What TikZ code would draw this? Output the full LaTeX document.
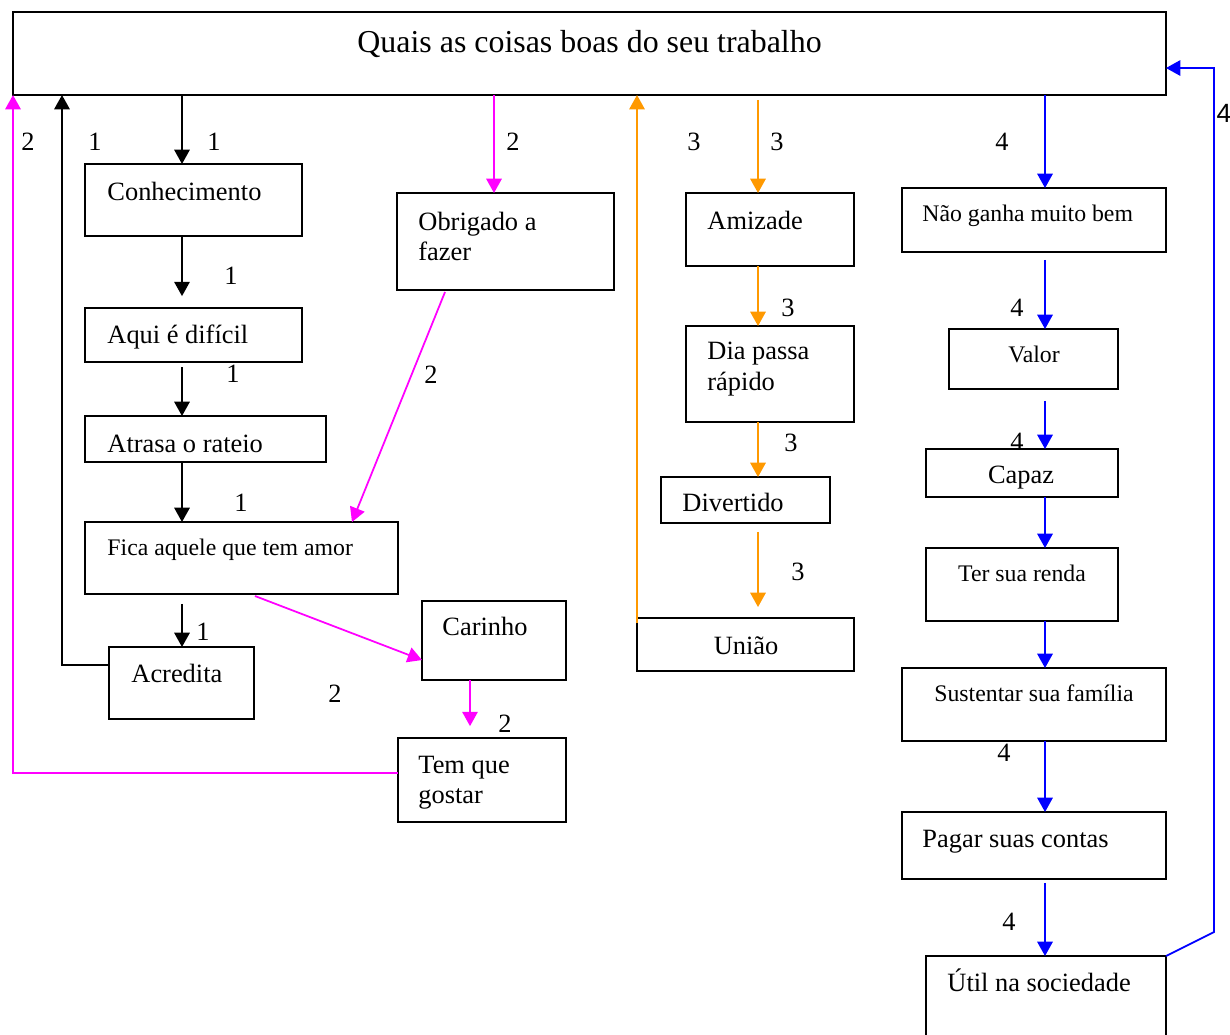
\documentclass[tikz,border=0pt]{standalone}
\usepackage{fontspec}
\setmainfont{Liberation Serif}
\newfontfamily\arialfam{Liberation Sans}
\usetikzlibrary{arrows.meta,fit,calc}

\definecolor{mag}{HTML}{FF00FF}
\definecolor{orng}{HTML}{FF9900}
\definecolor{blu}{HTML}{0000FF}

\tikzset{
  box/.style={draw, line width=0.8pt, rectangle, inner sep=0pt, outer sep=0pt},
  big/.style={inner sep=0pt, font=\fontsize{12}{14}\selectfont},
  sml/.style={inner sep=0pt, font=\fontsize{10.8}{13}\selectfont},
  ttlfont/.style={inner sep=0pt, font=\fontsize{14.5}{17}\selectfont},
  num/.style={inner sep=0pt, font=\fontsize{12}{14}\selectfont},
  arr/.style={line width=0.8pt, -{Triangle[width=7pt,length=6.5pt]}},
}

\begin{document}
\begin{tikzpicture}[x=0.4545pt, y=-0.4545pt]
\useasboundingbox (0,0) rectangle (1230,1034);
\clip (0,0) rectangle (1230,1034);

% ---------- boxes ----------
\node[box, fit={(13,12) (1166,95)}] (ttl) {};
\node[box, fit={(85,164) (302,236)}] (conh) {};
\node[box, fit={(85,308) (302,362)}] (aqui) {};
\node[box, fit={(85,416) (326,462)}] (atr) {};
\node[box, fit={(85,522) (398,594)}] (fica) {};
\node[box, fit={(109,647) (254,719)}] (acr) {};
\node[box, fit={(397,193) (614,290)}] (obr) {};
\node[box, fit={(422,601) (566,680)}] (car) {};
\node[box, fit={(398,738) (566,822)}] (tem) {};
\node[box, fit={(686,193) (854,266)}] (ami) {};
\node[box, fit={(686,326) (854,422)}] (dia) {};
\node[box, fit={(661,477) (830,523)}] (div) {};
\node[box, fit={(637,618) (854,671)}] (uni) {};
\node[box, fit={(902,188) (1166,252)}] (nao) {};
\node[box, fit={(949,329) (1118,389)}] (val) {};
\node[box, fit={(926,449) (1118,497)}] (cap) {};
\node[box, fit={(926,548) (1118,621)}] (ter) {};
\node[box, fit={(902,668) (1166,741)}] (sus) {};
\node[box, fit={(902,812) (1166,879)}] (pag) {};
\node[box, fit={(926,956) (1166,1050)}] (util) {};

% ---------- texts ----------
\node[ttlfont, anchor=base west] (t-ttl) at (357,52) {Quais as coisas boas do seu trabalho};
\node[big, anchor=base west] (t-conh) at (107,200) {Conhecimento};
\node[big, anchor=base west] (t-aqui) at (107,343) {Aqui é difícil};
\node[big, anchor=base west] (t-atr) at (107,452) {Atrasa o rateio};
\node[sml, anchor=base west] (t-fica) at (107,555) {Fica aquele que tem amor};
\node[big, anchor=base west] (t-acr) at (131,682) {Acredita};
\node[big, anchor=base west] (t-obr1) at (418,230) {Obrigado a};
\node[big, anchor=base west] (t-obr2) at (418,260) {fazer};
\node[big, anchor=base west] (t-car) at (442,635) {Carinho};
\node[big, anchor=base west] (t-tem1) at (418,773) {Tem que};
\node[big, anchor=base west] (t-tem2) at (418,803) {gostar};
\node[big, anchor=base west] (t-ami) at (707,229) {Amizade};
\node[big, anchor=base west] (t-dia1) at (707,359) {Dia passa};
\node[big, anchor=base west] (t-dia2) at (707,390) {rápido};
\node[big, anchor=base west] (t-div) at (682,511) {Divertido};
\node[big, anchor=base] (t-uni) at (746,654) {União};
\node[sml, anchor=base west] (t-nao) at (922,221) {Não ganha muito bem};
\node[sml, anchor=base] (t-val) at (1034,362) {Valor};
\node[big, anchor=base] (t-cap) at (1021,483) {Capaz};
\node[sml, anchor=base] (t-ter) at (1022,581) {Ter sua renda};
\node[sml, anchor=base] (t-sus) at (1034,701) {Sustentar sua família};
\node[big, anchor=base west] (t-pag) at (922,847) {Pagar suas contas};
\node[big, anchor=base west] (t-util) at (947,991) {Útil na sociedade};

% ---------- chain 1 (black) ----------
\draw[arr] (182,0 |- ttl.south) -- (182,0 |- conh.north);
\draw[arr, shorten >=5.4pt] (182,0 |- conh.south) -- (182,0 |- aqui.north);
\draw[arr, shorten <=2.3pt] (182,0 |- aqui.south) -- (182,0 |- atr.north);
\draw[arr] (182,0 |- atr.south) -- (182,0 |- fica.north);
\draw[arr, shorten <=4.5pt] (182,0 |- fica.south) -- (182,0 |- acr.north);
\draw[arr] ($(acr.north west)+(0,18)$) -| (62,0 |- ttl.south);

\node[num] (n1a) at (95,142) {1};
\node[num] (n1b) at (214,142) {1};
\node[num] (n1c) at (231,276) {1};
\node[num] (n1d) at (233,374) {1};
\node[num] (n1e) at (241,503) {1};
\node[num] (n1f) at (203,632) {1};

% ---------- chain 2 (magenta) ----------
\begin{scope}[mag]
\draw[arr] (494,0 |- ttl.south) -- (494,0 |- obr.north);
\draw[arr] ($(obr.south west)+(48,2)$) -- ($(fica.north west)+(267,0)$);
\draw[arr] ($(fica.south west)+(170,2)$) -- ($(car.north west)+(0,59)$);
\draw[arr, shorten >=5.4pt] (470,0 |- car.south) -- (470,0 |- tem.north);
\draw[arr] ($(tem.north west)+(0,35)$) -| (13,0 |- ttl.south);
\end{scope}
\node[num] (n2a) at (28,142) {2};
\node[num] (n2b) at (513,142) {2};
\node[num] (n2c) at (431,375) {2};
\node[num] (n2d) at (335,694) {2};
\node[num] (n2e) at (505,724) {2};

% ---------- chain 3 (orange) ----------
\begin{scope}[orng]
\draw[arr, shorten <=2.3pt] (758,0 |- ttl.south) -- (758,0 |- ami.north);
\draw[arr] (758,0 |- ami.south) -- (758,0 |- dia.north);
\draw[arr] (758,0 |- dia.south) -- (758,0 |- div.north);
\draw[arr, shorten <=4pt, shorten >=5pt] (758,0 |- div.south) -- (758,0 |- uni.north);
\draw[arr] ($(uni.north west)+(0,5)$) -- (637,0 |- ttl.south);
\end{scope}
\node[num] (n3a) at (694,142) {3};
\node[num] (n3b) at (777,142) {3};
\node[num] (n3c) at (788,308) {3};
\node[num] (n3d) at (791,443) {3};
\node[num] (n3e) at (798,572) {3};

% ---------- chain 4 (blue) ----------
\begin{scope}[blu]
\draw[arr] (1045,0 |- ttl.south) -- (1045,0 |- nao.north);
\draw[arr, shorten <=3.6pt] (1045,0 |- nao.south) -- (1045,0 |- val.north);
\draw[arr, shorten <=5.4pt] (1045,0 |- val.south) -- (1045,0 |- cap.north);
\draw[arr] (1045,0 |- cap.south) -- (1045,0 |- ter.north);
\draw[arr] (1045,0 |- ter.south) -- (1045,0 |- sus.north);
\draw[arr] (1045,0 |- sus.south) -- (1045,0 |- pag.north);
\draw[arr, shorten <=1.8pt] (1045,0 |- pag.south) -- (1045,0 |- util.north);
\draw[arr] (util.north east) -- (1214,932) |- ($(ttl.north east)+(0,56)$);
\end{scope}
\node[num] (n4a) at (1002,142) {4};
\node[num] (n4b) at (1017,308) {4};
\node[num] (n4c) at (1017,442) {4};
\node[num] (n4d) at (1004,753) {4};
\node[num] (n4e) at (1009,922) {4};
\node[num, font=\arialfam\fontsize{12}{14}\selectfont] (n4f) at (1224,113) {4};

\end{tikzpicture}
\end{document}
